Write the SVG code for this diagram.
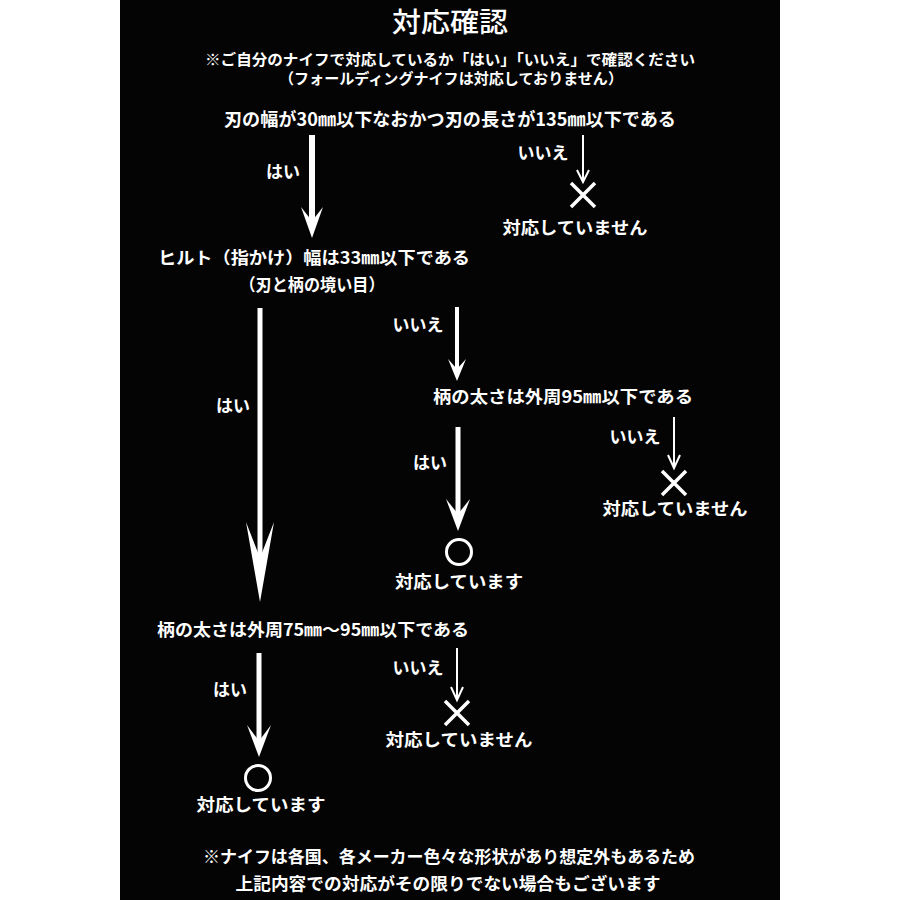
<svg xmlns="http://www.w3.org/2000/svg" width="900" height="900" viewBox="0 0 900 900">
<style>
text{font-family:"Noto Sans CJK JP","Noto Sans CJK SC",sans-serif;fill:#fff;text-anchor:middle;font-weight:700}
.t{font-size:27px;font-weight:500}
.s{font-size:15px}
.m{font-size:17px}
.q{font-size:18px}
.l{font-size:17px}
.shaft{stroke:#fff;fill:none}
.head{fill:#fff}
.thin{stroke:#fff;stroke-width:2;fill:none}
.mark{stroke:#fff;stroke-width:3.5;fill:none}
</style>
<rect x="0" y="0" width="900" height="900" fill="#fff"/>
<rect x="120" y="0" width="660" height="900" fill="#040404"/>

<g id="header">
<text class="t" x="450" y="32" textLength="116" lengthAdjust="spacingAndGlyphs">対応確認</text>
<text class="s" x="450" y="65" textLength="490" lengthAdjust="spacingAndGlyphs">※ご自分のナイフで対応しているか「はい」「いいえ」で確認ください</text>
<text class="s" x="451" y="84" textLength="344" lengthAdjust="spacingAndGlyphs">（フォールディングナイフは対応しておりません）</text>
</g>

<g id="q1"><text class="q" x="450" y="126" textLength="452" lengthAdjust="spacingAndGlyphs">刃の幅が30㎜以下なおかつ刃の長さが135㎜以下である</text></g>
<g id="ng1">
<path class="mark" d="M571,183 L595,207 M595,183 L571,207"/>
<text class="m" x="575" y="234" textLength="145" lengthAdjust="spacingAndGlyphs">対応していません</text>
</g>
<g id="q2">
<text class="m" x="314" y="264" textLength="312" lengthAdjust="spacingAndGlyphs">ヒルト（指かけ）幅は33㎜以下である</text>
<text class="m" x="312" y="291" textLength="145" lengthAdjust="spacingAndGlyphs">（刃と柄の境い目）</text>
</g>
<g id="q3"><text class="m" x="563" y="403" textLength="260" lengthAdjust="spacingAndGlyphs">柄の太さは外周95㎜以下である</text></g>
<g id="ng2">
<path class="mark" d="M662,471 L686,495 M686,471 L662,495"/>
<text class="m" x="675" y="515" textLength="145" lengthAdjust="spacingAndGlyphs">対応していません</text>
</g>
<g id="ok1">
<circle cx="459" cy="552" r="12.5" stroke="#fff" stroke-width="3" fill="none"/>
<text class="m" x="459" y="588" textLength="128" lengthAdjust="spacingAndGlyphs">対応しています</text>
</g>
<g id="q4"><text class="m" x="313" y="636" textLength="312" lengthAdjust="spacingAndGlyphs">柄の太さは外周75㎜～95㎜以下である</text></g>
<g id="ng3">
<path class="mark" d="M445,701 L469,725 M469,701 L445,725"/>
<text class="m" x="459" y="746" textLength="147" lengthAdjust="spacingAndGlyphs">対応していません</text>
</g>
<g id="ok2">
<circle cx="258" cy="778" r="12.5" stroke="#fff" stroke-width="3" fill="none"/>
<text class="m" x="261" y="811" textLength="129" lengthAdjust="spacingAndGlyphs">対応しています</text>
</g>
<g id="footer">
<text class="m" x="449" y="863" textLength="492" lengthAdjust="spacingAndGlyphs">※ナイフは各国、各メーカー色々な形状があり想定外もあるため</text>
<text class="m" x="448" y="890" textLength="425" lengthAdjust="spacingAndGlyphs">上記内容での対応がその限りでない場合もございます</text>
</g>

<g id="connectors">
<!-- q1 yes -->
<line class="shaft" x1="312" y1="135" x2="312" y2="225" stroke-width="6"/>
<path class="head" d="M301,207 L312,238 L323,207 L312,221 Z"/>
<text class="l" x="283" y="178">はい</text>
<!-- q1 no -->
<line class="thin" x1="583" y1="135" x2="583" y2="181"/>
<polyline class="thin" points="577,170 583,182 589,170" stroke-width="2.5"/>
<text class="l" x="543" y="159">いいえ</text>
<!-- q2 yes -->
<line class="shaft" x1="260" y1="308" x2="260" y2="580" stroke-width="5"/>
<path class="head" d="M246,522 L260,602 L274,522 L260,558 Z"/>
<text class="l" x="233" y="412">はい</text>
<!-- q2 no -->
<line class="shaft" x1="457" y1="307" x2="457" y2="372" stroke-width="4"/>
<path class="head" d="M448,359 L457,381 L466,359 L457,369 Z"/>
<text class="l" x="418" y="331">いいえ</text>
<!-- q3 yes -->
<line class="shaft" x1="458" y1="427" x2="458" y2="520" stroke-width="5"/>
<path class="head" d="M446,499 L458,531 L470,499 L458,514 Z"/>
<text class="l" x="430" y="469">はい</text>
<!-- q3 no -->
<line class="thin" x1="674" y1="417" x2="674" y2="467"/>
<polyline class="thin" points="668,455 674,468 680,455" stroke-width="2.5"/>
<text class="l" x="635" y="443">いいえ</text>
<!-- q4 yes -->
<line class="shaft" x1="259" y1="653" x2="259" y2="745" stroke-width="5"/>
<path class="head" d="M247,725 L259,757 L271,725 L259,741 Z"/>
<text class="l" x="230" y="696">はい</text>
<!-- q4 no -->
<line class="thin" x1="457" y1="648" x2="457" y2="699"/>
<polyline class="thin" points="451,687 457,700 463,687" stroke-width="2.5"/>
<text class="l" x="418" y="674">いいえ</text>
</g>
</svg>
